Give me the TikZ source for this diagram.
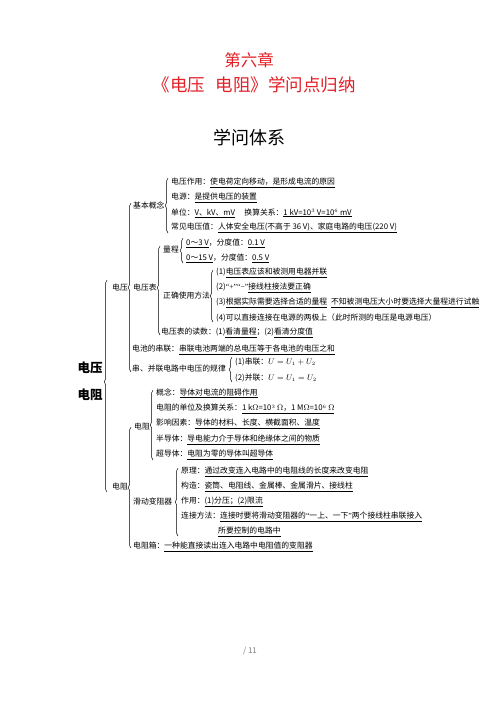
\documentclass[tikz,border=0pt]{standalone}
\usepackage{fontspec}
\setmainfont{Noto Sans CJK SC}
\newfontfamily\lat{Liberation Serif}
\usetikzlibrary{decorations.pathreplacing}
\definecolor{titlered}{RGB}{226,32,38}
\begin{document}
\begin{tikzpicture}[x=1pt,y=-1pt,
  txt/.style={anchor=west,inner sep=0pt,font=\fontsize{7.8}{9}\selectfont},
  bigl/.style={anchor=center,inner sep=0pt,font=\fontsize{12.5}{14}\selectfont\bfseries},
  brc/.style={decorate,decoration={brace,amplitude=2.8pt,aspect=#1},line width=0.45pt},
  brc/.default=0.5]
\useasboundingbox (0,0) rectangle (500,707);
% titles
\node[font=\fontsize{16.5}{18}\selectfont,text=titlered] (t1) at (249,60) {第六章};
\node[font=\fontsize{17.5}{20}\selectfont,text=titlered] (t2) at (254,85) {《电压\hspace{0.6em}电阻》学问点归纳};
\node[font=\fontsize{18}{20}\selectfont] (t3) at (249,138) {学问体系};
% big labels
\node[bigl] (dy) at (90,368) {电压};
\node[bigl] (dz) at (90,395) {电阻};
\draw[brc=0.52] (107,492) -- (107,280);
% voltage
\node[txt] (dy2) at (112,288) {电压};
\draw[brc] (131,372) -- (131,203);
\node[txt] (jb) at (133,205) {基本概念};
\draw[brc] (168,233) -- (168,178);
\node[txt] (a1) at (171,183) {电压作用：\underline{使电荷定向移动，是形成电流的原因}};
\node[txt] (a2) at (171,198) {电源：\underline{是提供电压的装置}};
\node[txt] (a3) at (171,213) {单位：\underline{V、kV、mV}\hspace{1.2em}换算关系：\underline{1 kV=10$^3$ V=10$^6$ mV}};
\node[txt] (a4) at (171,228) {常见电压值：\underline{人体安全电压(不高于 36 V)、家庭电路的电压(220 V)}};
\node[txt] (vb) at (133,288) {电压表};
\draw[brc=0.53] (160,335) -- (160,246);
\node[txt] (lc) at (163,250) {量程};
\draw[brc] (183,263) -- (183,238);
\node[txt] (l1) at (186,243) {\underline{0～3 V}，分度值：\underline{0.1 V}};
\node[txt] (l2) at (186,258) {\underline{0～15 V}，分度值：\underline{0.5 V}};
\node[txt] (zq) at (163,296) {正确使用方法};
\draw[brc] (213,322) -- (213,270);
\node[txt] (z1) at (216,273) {(1)\underline{电压表应该和被测用电器并联}};
\node[txt] (z2) at (216,288) {(2){\lat “+”“−”}\underline{接线柱接法要正确}};
\node[txt] (z3) at (216,303) {(3)\underline{根据实际需要选择合适的量程}\hspace{0.5em}\underline{不知被测电压大小时要选择大量程进行试触}};
\node[txt] (z4) at (216,318) {(4)可以直接连接在电源的两极上（此时所测的电压是电源电压）};
\node[txt] (ds) at (161,333) {电压表的读数：(1)\underline{看清量程}；(2)\underline{看清分度值}};
\node[txt] (cl) at (132,350) {电池的串联：\underline{串联电池两端的总电压等于各电池的电压之和}};
\node[txt] (gl) at (132,369) {串、并联电路中电压的规律};
\draw[brc] (232,382) -- (232,357);
\node[txt] (g1) at (235,362) {(1)串联：$U=U_1+U_2$};
\node[txt] (g2) at (235,378) {(2)并联：$U=U_1=U_2$};
% resistance
\node[txt] (dz2) at (112,487) {电阻};
\draw[brc] (131,548) -- (131,427);
\node[txt] (dz3) at (134,427) {电阻};
\draw[brc] (153,460) -- (153,390);
\node[txt] (r1) at (156,393) {概念：\underline{导体对电流的阻碍作用}};
\node[txt] (r2) at (156,409) {电阻的单位及换算关系：\underline{1 k$\Omega$=10$^3$ $\Omega$，1 M$\Omega$=10$^6$ $\Omega$}};
\node[txt] (r3) at (156,424) {影响因素：\underline{导体的材料、长度、横截面积、温度}};
\node[txt] (r4) at (156,440) {半导体：\underline{导电能力介于导体和绝缘体之间的物质}};
\node[txt] (r5) at (156,455) {超导体：\underline{电阻为零的导体叫超导体}};
\node[txt] (hd) at (133,502) {滑动变阻器};
\draw[brc] (178,536) -- (178,468);
\node[txt] (h1) at (181,472) {原理：\underline{通过改变连入电路中的电阻线的长度来改变电阻}};
\node[txt] (h2) at (181,487) {构造：\underline{瓷筒、电阻线、金属棒、金属滑片、接线柱}};
\node[txt] (h3) at (181,502) {作用：\underline{(1)分压；(2)限流}};
\node[txt] (h4) at (181,517) {连接方法：\underline{连接时要将滑动变阻器的{\lat “}一上、一下{\lat ”}两个接线柱串联接入}};
\node[txt] (h5) at (218,532) {\underline{所要控制的电路中}};
\node[txt] (dzx) at (133,547) {电阻箱：\underline{一种能直接读出连入电路中电阻值的变阻器}};
% page number
\node[font=\fontsize{8}{9}\selectfont,text=gray] (pg) at (250,651) {/ 11};
\end{tikzpicture}
\end{document}
